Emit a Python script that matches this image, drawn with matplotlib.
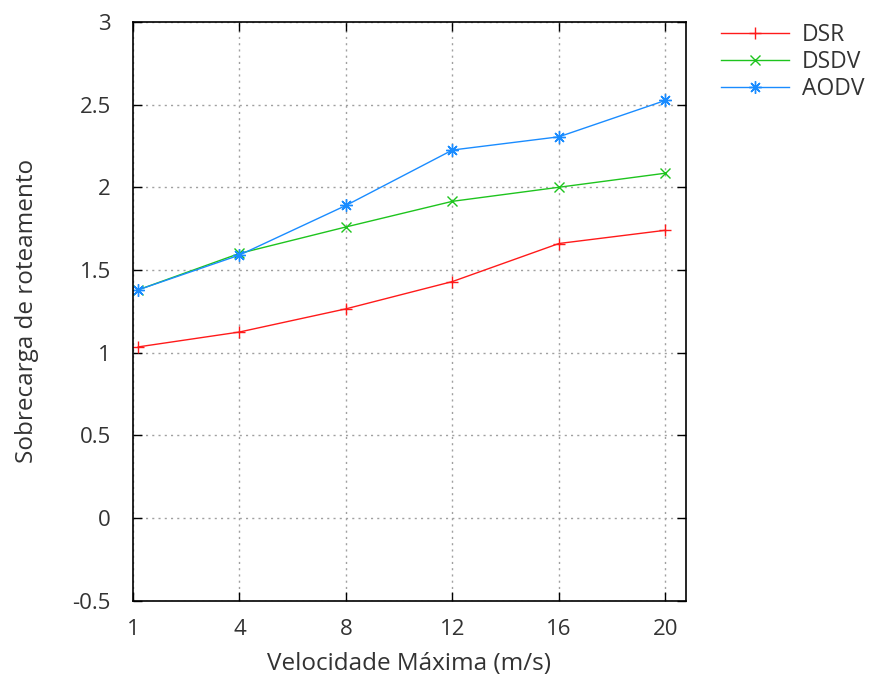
import matplotlib
matplotlib.use("Agg")
import matplotlib.pyplot as plt

# data
velocidades = ["1", "4", "8", "12", "16", "20"]
posicoes = [0.05, 1, 2, 3, 4, 5]
dsr = [1.035, 1.125, 1.265, 1.43, 1.66, 1.74]
dsdv = [1.38, 1.60, 1.76, 1.915, 2.00, 2.085]
aodv = [1.38, 1.59, 1.89, 2.225, 2.305, 2.525]
yticks = [-0.5, 0, 0.5, 1, 1.5, 2, 2.5, 3]

plt.rcParams['font.family'] = ['Open Sans', 'DejaVu Sans']
fs_tick = 16
fs = 17.5
fs_leg = 16.5
txt = '#333333'

fig = plt.figure(figsize=(8.69, 6.82), dpi=100)
ax = fig.add_axes([0.153, 0.119, 0.636, 0.849])

ax.plot(posicoes, dsr, color='#ff1a1a', lw=1.0, marker='+', ms=9, mew=1.0, label='DSR')
ax.plot(posicoes, dsdv, color='#1ec41e', lw=1.0, marker='x', ms=7, mew=1.0, label='DSDV')
ax.plot(posicoes, aodv, color='#1a8cff', lw=1.0, marker=(8, 2, 0), ms=9, mew=1.0, label='AODV')

ax.set_xlim(0, 5.19)
ax.set_ylim(-0.5, 3)
ax.set_xticks(range(len(velocidades)))
ax.set_xticklabels(velocidades)
ax.set_yticks(yticks)
ax.set_yticklabels([('%g' % v) for v in yticks])
ax.tick_params(direction='in', length=6.5, width=1, top=True, right=True,
               labelsize=fs_tick, labelcolor=txt)
ax.tick_params(axis='y', pad=16)
ax.tick_params(axis='x', pad=13)
ax.grid(True, color='#a0a0a0', linestyle=(0, (1.5, 3)), lw=1.0)
for s in ax.spines.values():
    s.set_linewidth(1.2)
    s.set_color('black')

ax.set_xlabel('Velocidade Máxima (m/s)', fontsize=fs, color=txt, labelpad=9)
ax.set_ylabel('Sobrecarga de roteamento', fontsize=fs, color=txt, labelpad=24)

fig.legend(loc='upper left', bbox_to_anchor=(0.806, 0.996), frameon=False,
           handlelength=2.97, handletextpad=0.57, labelspacing=0.12,
           fontsize=fs_leg, labelcolor=txt)

fig.savefig('out.png', dpi=100)
